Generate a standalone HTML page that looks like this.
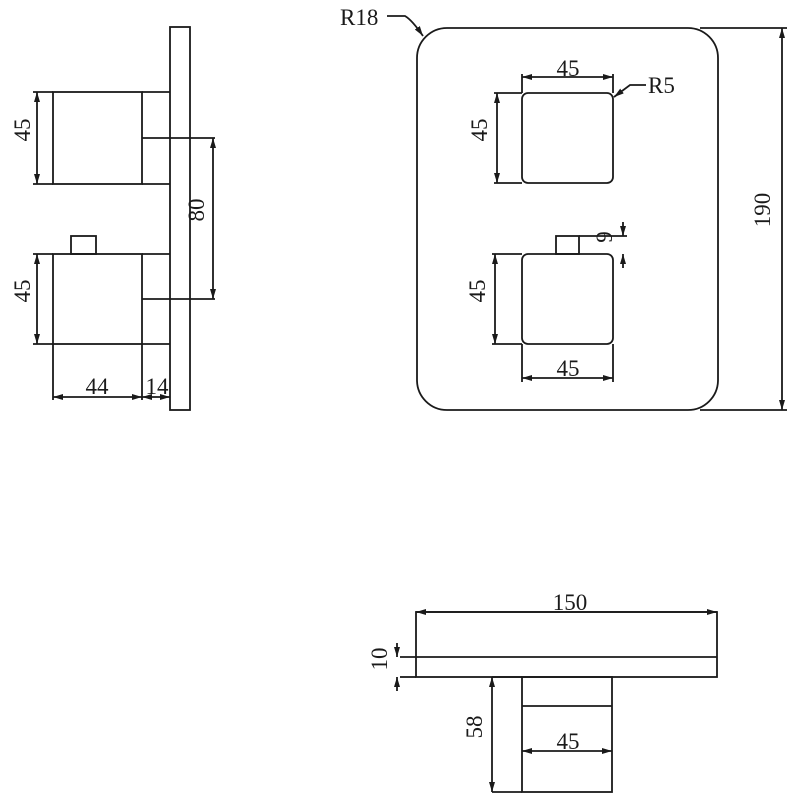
<!DOCTYPE html>
<html><head><style>body{margin:0;background:#fff}svg{display:block}text{font-family:"Liberation Serif",serif;font-size:23px;fill:#1a1a1a}</style></head><body>
<svg width="800" height="800" viewBox="0 0 800 800" xmlns="http://www.w3.org/2000/svg">
<defs><marker id="a" viewBox="0 0 10 6" refX="10" refY="3" markerWidth="10" markerHeight="6" orient="auto-start-reverse" markerUnits="userSpaceOnUse"><path d="M0,0L10,3L0,6z" fill="#1a1a1a"/></marker></defs>
<g stroke="#1a1a1a" stroke-width="1.8" fill="none">
<rect x="170" y="27" width="20" height="383"/>
<rect x="53" y="92" width="89" height="92"/>
<line x1="142" y1="92" x2="170" y2="92"/><line x1="142" y1="138" x2="215" y2="138"/><line x1="142" y1="184" x2="170" y2="184"/>
<line x1="33" y1="92" x2="53" y2="92"/><line x1="33" y1="184" x2="53" y2="184"/>
<line x1="37" y1="92" x2="37" y2="184" marker-start="url(#a)" marker-end="url(#a)"/>
<rect x="71" y="236" width="25" height="18"/>
<rect x="53" y="254" width="89" height="90"/>
<line x1="142" y1="254" x2="170" y2="254"/><line x1="142" y1="299" x2="215" y2="299"/><line x1="142" y1="344" x2="170" y2="344"/>
<line x1="33" y1="254" x2="53" y2="254"/><line x1="33" y1="344" x2="53" y2="344"/>
<line x1="37" y1="254" x2="37" y2="344" marker-start="url(#a)" marker-end="url(#a)"/>
<line x1="213" y1="138" x2="213" y2="299" marker-start="url(#a)" marker-end="url(#a)"/>
<line x1="53" y1="344" x2="53" y2="400"/><line x1="142" y1="344" x2="142" y2="400"/>
<line x1="53" y1="397" x2="142" y2="397" marker-start="url(#a)" marker-end="url(#a)"/>
<line x1="142" y1="397" x2="170" y2="397" marker-start="url(#a)" marker-end="url(#a)"/>
<rect x="417" y="28" width="301" height="382" rx="30"/>
<rect x="522" y="93" width="91" height="90" rx="6"/>
<rect x="522" y="254" width="91" height="90" rx="6"/>
<rect x="556" y="236" width="23" height="18"/>
<line x1="579" y1="236" x2="627" y2="236"/>
<line x1="522" y1="74" x2="522" y2="93"/><line x1="613" y1="74" x2="613" y2="93"/>
<line x1="522" y1="77" x2="613" y2="77" marker-start="url(#a)" marker-end="url(#a)"/>
<line x1="494" y1="93" x2="522" y2="93"/><line x1="494" y1="183" x2="522" y2="183"/>
<line x1="497" y1="93" x2="497" y2="183" marker-start="url(#a)" marker-end="url(#a)"/>
<line x1="492" y1="254" x2="522" y2="254"/><line x1="492" y1="344" x2="522" y2="344"/>
<line x1="495" y1="254" x2="495" y2="344" marker-start="url(#a)" marker-end="url(#a)"/>
<line x1="522" y1="344" x2="522" y2="382"/><line x1="613" y1="344" x2="613" y2="382"/>
<line x1="522" y1="378" x2="613" y2="378" marker-start="url(#a)" marker-end="url(#a)"/>
<line x1="623" y1="222" x2="623" y2="236" marker-end="url(#a)"/>
<line x1="623" y1="268" x2="623" y2="254" marker-end="url(#a)"/>
<line x1="700" y1="28" x2="787" y2="28"/><line x1="700" y1="410" x2="787" y2="410"/>
<line x1="782" y1="28" x2="782" y2="410" marker-start="url(#a)" marker-end="url(#a)"/>
<path d="M387,16 L405,16 Q412,20 423,36" marker-end="url(#a)"/>
<path d="M646,85 L630,85 L614,97" marker-end="url(#a)"/>
<rect x="416" y="612" width="301" height="65"/>
<line x1="400" y1="657" x2="717" y2="657"/>
<line x1="400" y1="677" x2="416" y2="677"/>
<line x1="416" y1="612" x2="717" y2="612" marker-start="url(#a)" marker-end="url(#a)"/>
<line x1="397" y1="643" x2="397" y2="657" marker-end="url(#a)"/>
<line x1="397" y1="691" x2="397" y2="677" marker-end="url(#a)"/>
<rect x="522" y="677" width="90" height="115"/>
<line x1="522" y1="706" x2="612" y2="706"/>
<line x1="492" y1="677" x2="522" y2="677"/><line x1="492" y1="792" x2="522" y2="792"/>
<line x1="492" y1="677" x2="492" y2="792" marker-start="url(#a)" marker-end="url(#a)"/>
<line x1="522" y1="751" x2="612" y2="751" marker-start="url(#a)" marker-end="url(#a)"/>
</g>
<text x="38" y="138" transform="rotate(-90 30 138)" text-anchor="middle">45</text>
<text x="38" y="299" transform="rotate(-90 30 299)" text-anchor="middle">45</text>
<text x="212" y="218" transform="rotate(-90 204 218)" text-anchor="middle">80</text>
<text x="97" y="394" text-anchor="middle">44</text>
<text x="157" y="394" text-anchor="middle" font-size="21">14</text>
<text x="340" y="25">R18</text>
<text x="648" y="93">R5</text>
<text x="568" y="76" text-anchor="middle">45</text>
<text x="568" y="376" text-anchor="middle">45</text>
<text x="495" y="138" transform="rotate(-90 487 138)" text-anchor="middle">45</text>
<text x="493" y="299" transform="rotate(-90 485 299)" text-anchor="middle">45</text>
<text x="620" y="245" transform="rotate(-90 612 245)" text-anchor="middle">9</text>
<text x="778" y="218" transform="rotate(-90 770 218)" text-anchor="middle">190</text>
<text x="570" y="610" text-anchor="middle">150</text>
<text x="395" y="667" transform="rotate(-90 387 667)" text-anchor="middle">10</text>
<text x="490" y="735" transform="rotate(-90 482 735)" text-anchor="middle">58</text>
<text x="568" y="749" text-anchor="middle">45</text>
</svg>
</body></html>
